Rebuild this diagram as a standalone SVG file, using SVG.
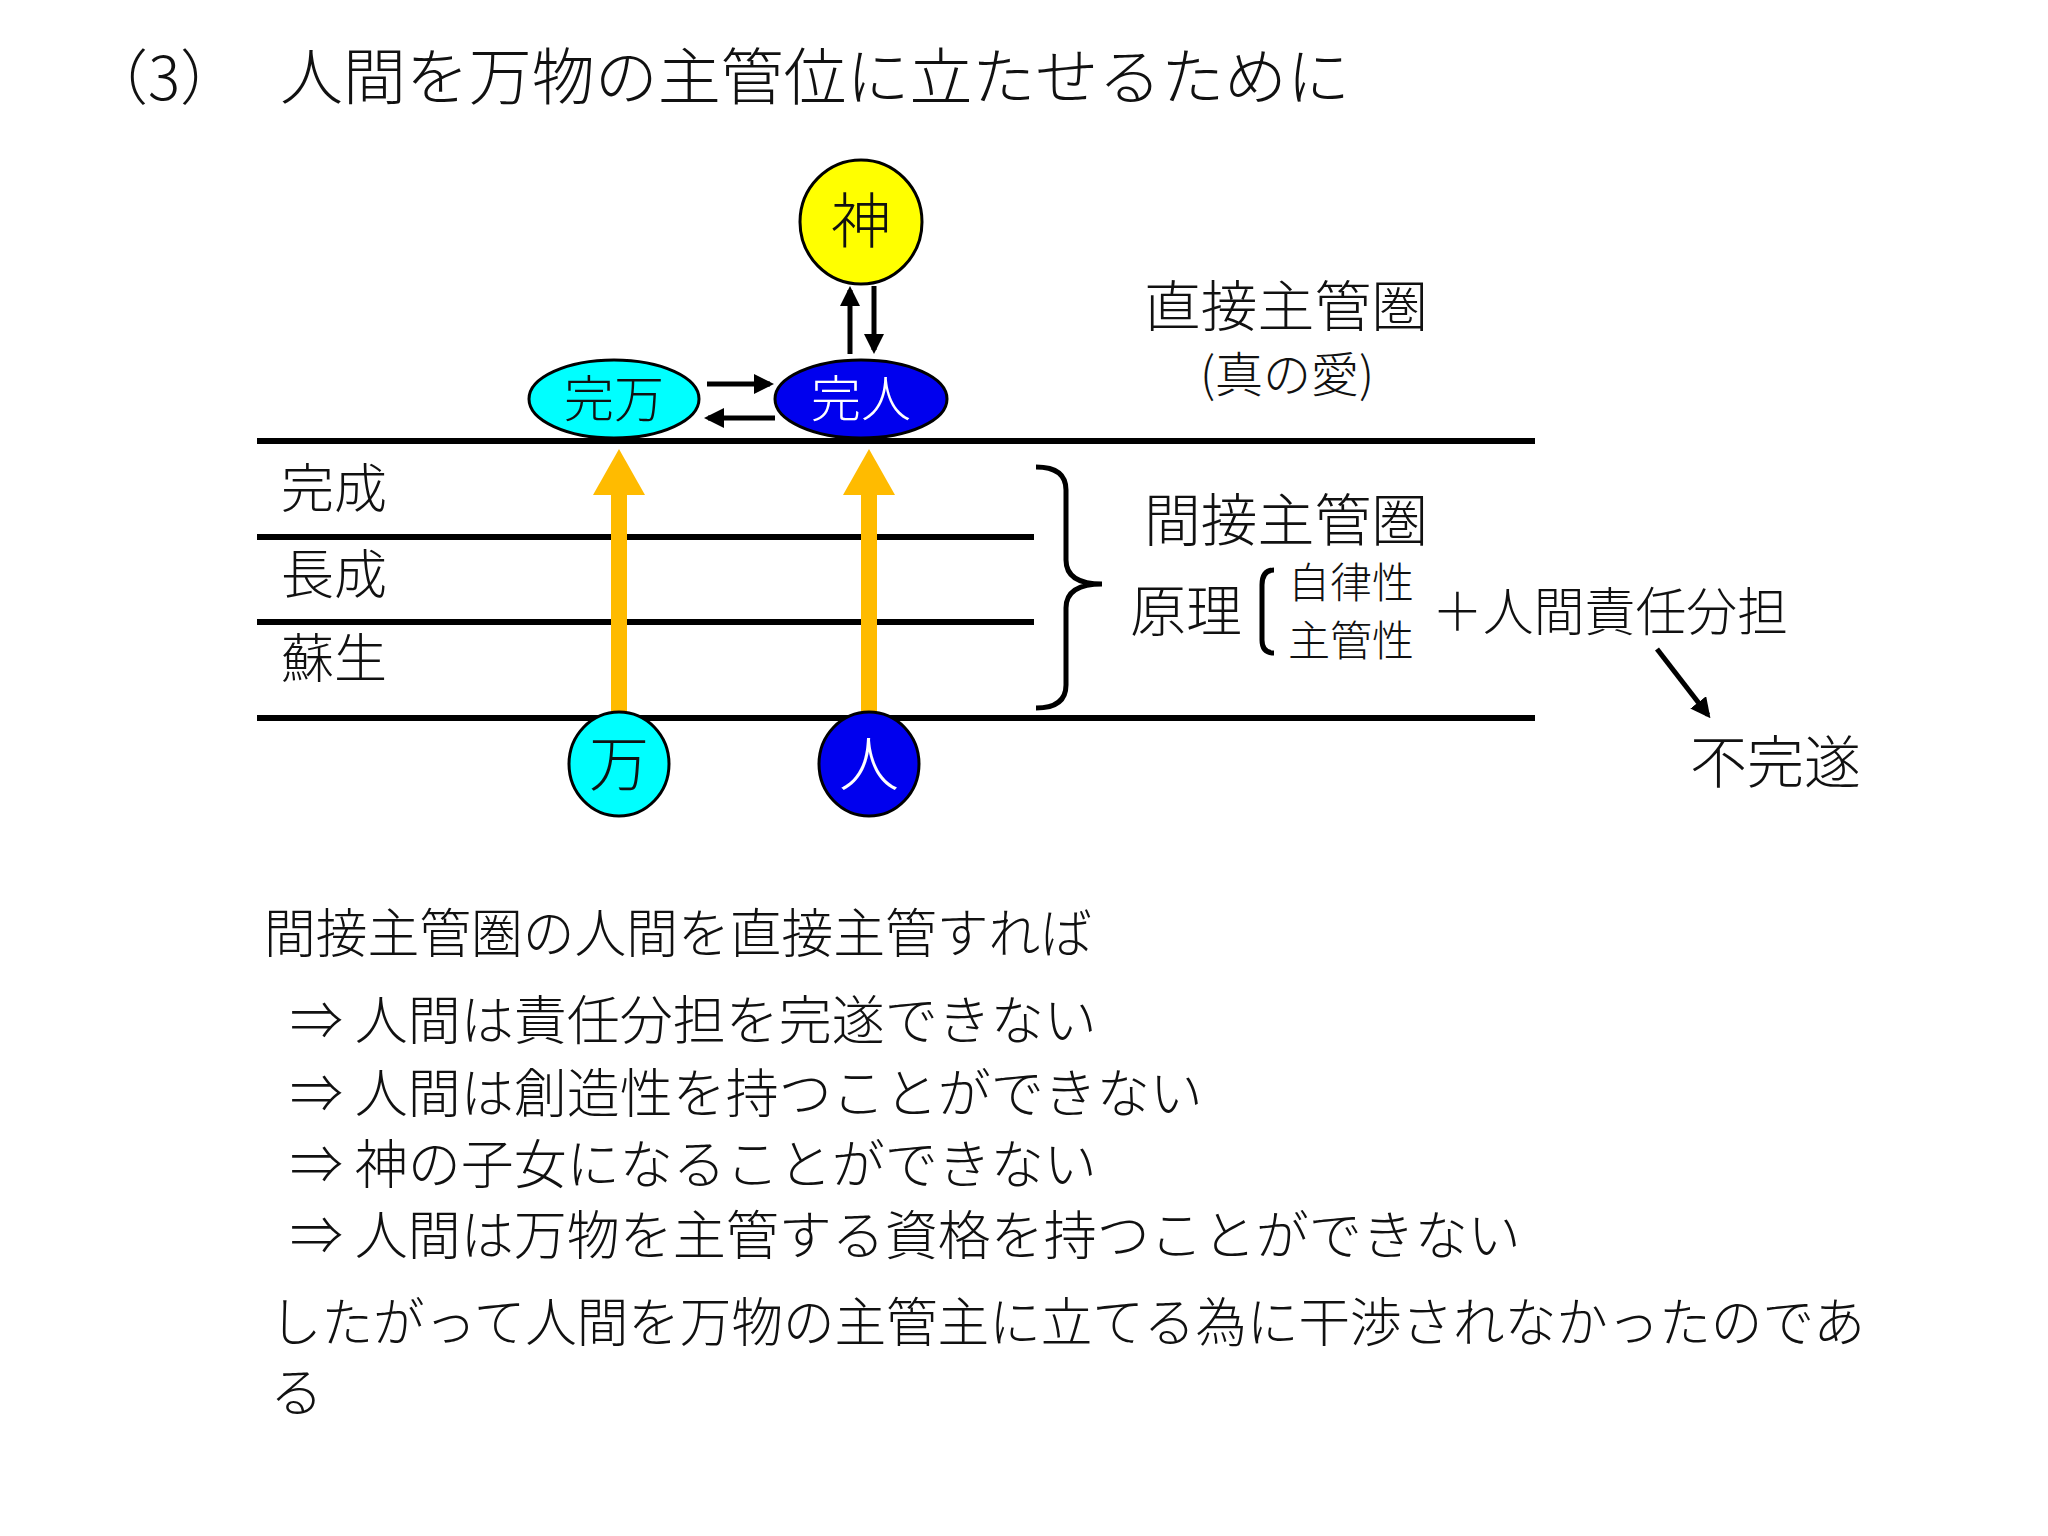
<svg xmlns="http://www.w3.org/2000/svg" width="2048" height="1536" viewBox="0 0 2048 1536">
<defs>
<style>
text{font-family:"Noto Sans CJK JP","Noto Sans CJK SC",sans-serif;font-weight:300;fill:#111}
.line{stroke:#000;stroke-width:6}
.ar{stroke:#000;stroke-width:5;fill:none}
.node{stroke:#000;stroke-width:3}
</style>
<marker id="ah" viewBox="0 0 10 10" refX="8" refY="5" markerWidth="4" markerHeight="4" orient="auto"><path d="M0,0L10,5L0,10z" fill="#000"/></marker>
</defs>
<rect width="2048" height="1536" fill="#fff"/>
<text x="88" y="100" font-size="60">（3）</text>
<text x="280" y="100" font-size="62" textLength="1070" lengthAdjust="spacingAndGlyphs">人間を万物の主管位に立たせるために</text>
<g id="levels">
<line class="line" x1="257" y1="441" x2="1535" y2="441"/>
<line class="line" x1="257" y1="537" x2="1034" y2="537"/>
<line class="line" x1="257" y1="622" x2="1034" y2="622"/>
<line class="line" x1="257" y1="718" x2="1535" y2="718"/>
<text x="281" y="508" font-size="53">完成</text>
<text x="281" y="594" font-size="53">長成</text>
<text x="281" y="678" font-size="53">蘇生</text>
</g>
<g id="connectors">
<rect x="611" y="490" width="16" height="223" fill="#ffbb00"/>
<polygon points="593,495 619,449 645,495" fill="#ffbb00"/>
<rect x="861" y="490" width="16" height="223" fill="#ffbb00"/>
<polygon points="843,495 869,449 895,495" fill="#ffbb00"/>
<line class="ar" x1="850" y1="354" x2="850" y2="290" marker-end="url(#ah)"/>
<line class="ar" x1="874" y1="286" x2="874" y2="350" marker-end="url(#ah)"/>
<line class="ar" x1="707" y1="384" x2="770" y2="384" marker-end="url(#ah)"/>
<line class="ar" x1="775" y1="418" x2="708" y2="418" marker-end="url(#ah)"/>
<line class="ar" x1="1657" y1="649" x2="1708" y2="715" marker-end="url(#ah)"/>
<path class="ar" d="M1036,467 Q1066,467 1066,490 L1066,560 Q1066,584 1102,584 Q1066,584 1066,608 L1066,685 Q1066,708 1036,708"/>
<path class="ar" d="M1274,570 Q1262,570 1262,585 L1262,640 Q1262,653 1274,653"/>
</g>
<g id="kami"><ellipse class="node" cx="861" cy="222" rx="61" ry="62" fill="#ffff00"/><text x="861" y="243" font-size="60" text-anchor="middle">神</text></g>
<g id="kanman"><ellipse class="node" cx="614" cy="399" rx="85" ry="39" fill="#00ffff"/><text x="614" y="417" font-size="50" text-anchor="middle">完万</text></g>
<g id="kanjin"><ellipse class="node" cx="861" cy="399" rx="86" ry="39" fill="#0000ee"/><text x="861" y="417" font-size="50" text-anchor="middle" style="fill:#fff">完人</text></g>
<g id="man"><ellipse class="node" cx="619" cy="764" rx="50" ry="52" fill="#00ffff"/><text x="619" y="786" font-size="60" text-anchor="middle">万</text></g>
<g id="jin"><ellipse class="node" cx="869" cy="764" rx="50" ry="52" fill="#0000ee"/><text x="869" y="786" font-size="60" text-anchor="middle" style="fill:#fff">人</text></g>
<g id="labels">
<text x="1144" y="326" font-size="55" textLength="284" lengthAdjust="spacingAndGlyphs">直接主管圏</text>
<text x="1287" y="392" font-size="48" text-anchor="middle">(真の愛)</text>
<text x="1144" y="541" font-size="57" textLength="284" lengthAdjust="spacingAndGlyphs">間接主管圏</text>
<text x="1130" y="631" font-size="56">原理</text>
<text x="1288" y="598" font-size="42">自律性</text>
<text x="1288" y="656" font-size="42">主管性</text>
<text x="1432" y="631" font-size="52" textLength="356" lengthAdjust="spacingAndGlyphs">＋人間責任分担</text>
<text x="1690" y="783" font-size="57">不完遂</text>
</g>
<g id="body" font-size="53">
<text x="264" y="953" font-size="53" textLength="828" lengthAdjust="spacingAndGlyphs">間接主管圏の人間を直接主管すれば</text>
<text x="290" y="1040" font-size="53">⇒ 人間は責任分担を完遂できない</text>
<text x="290" y="1113" font-size="53">⇒ 人間は創造性を持つことができない</text>
<text x="290" y="1184" font-size="53">⇒ 神の子女になることができない</text>
<text x="290" y="1255" font-size="53">⇒ 人間は万物を主管する資格を持つことができない</text>
<text x="270" y="1342" font-size="53" textLength="1595" lengthAdjust="spacingAndGlyphs">したがって人間を万物の主管主に立てる為に干渉されなかったのであ</text>
<text x="270" y="1412" font-size="53">る</text>
</g>
</svg>
